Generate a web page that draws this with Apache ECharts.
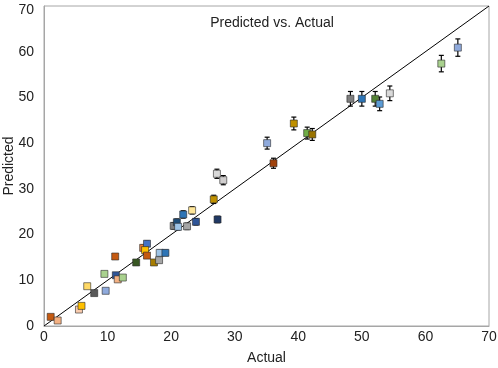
<!DOCTYPE html>
<html>
<head>
<meta charset="utf-8">
<script src="https://cdn.jsdelivr.net/npm/echarts@6/dist/echarts.min.js"></script>
<style>html,body{margin:0;padding:0;background:#fff}#chart{width:498px;height:368px}</style>
</head>
<body>
<div id="chart"></div>
<script>
// ---- data ----
var actual = [1.05, 2.15, 5.5, 5.9, 6.8, 7.9, 9.7, 9.5, 11.2, 11.3, 11.6, 12.4, 14.5, 15.6, 16.2, 15.9, 16.2, 17.3, 18.1, 18.2, 19.1,
  20.4, 20.9, 21.1, 21.9, 22.5, 23.3, 23.9, 26.7, 27.2, 27.3, 28.2, 35.1, 36.1, 39.3, 41.4, 42.2, 48.2, 50.0, 52.1, 52.8, 54.4, 62.5, 65.1];
var predicted = [2.0, 1.2, 3.6, 4.4, 8.7, 7.2, 7.7, 11.4, 15.2, 11.1, 10.2, 10.6, 13.9, 17.1, 18.0, 16.6, 15.4, 13.9, 14.4, 16.0, 16.0,
  21.9, 22.7, 21.7, 24.4, 21.8, 25.3, 22.8, 27.7, 33.3, 23.3, 31.9, 40.0, 35.6, 44.3, 42.2, 41.9, 49.7, 49.7, 49.7, 48.6, 50.9, 57.4, 60.9];
var errors = [0.1, 0.1, 0.2, 0.2, 0.3, 0.3, 0.3, 0.4, 0.5, 0.4, 0.4, 0.4, 0.5, 0.6, 0.6, 0.6, 0.5, 0.5, 0.5, 0.6, 0.6,
  0.7, 0.7, 0.7, 0.8, 0.7, 0.8, 0.7, 0.9, 1.0, 0.7, 1.0, 1.3, 1.1, 1.4, 1.3, 1.3, 1.6, 1.6, 1.6, 1.5, 1.6, 1.8, 1.9];
var fitLine = [[0, 0], [70, 70]];
var axisTicks = [0, 10, 20, 30, 40, 50, 60, 70];

// ---- styles ----
var pointColors = ['#c55a11', '#f4b183', '#f8cbad', '#ffc000', '#ffd966', '#595959', '#8faadc', '#a9d18e', '#c55a11', '#2f5597', '#f4b183', '#a9d18e',
  '#385723', '#ed7d31', '#4472c4', '#ffc000', '#c55a11', '#a67c00', '#a5a5a5', '#9dc3e6', '#2e75b6',
  '#7f7f7f', '#1f4e79', '#9dc3e6', '#2e75b6', '#a5a5a5', '#ffe699', '#2f5597', '#bf9000', '#d9d9d9', '#203864', '#d0cece',
  '#8faadc', '#a0420c', '#bf9000', '#70ad47', '#997300', '#7f7f7f', '#2e75b6', '#548235', '#5b9bd5', '#d9d9d9', '#a9d18e', '#8faadc'];
var FONT = '"Liberation Sans", Arial, sans-serif';
var AXMAX = axisTicks[axisTicks.length - 1];

var points = actual.map(function (a, i) {
  return { value: [a, predicted[i]], itemStyle: { color: pointColors[i] } };
});
var errData = actual.map(function (a, i) { return [a, predicted[i] - errors[i], predicted[i] + errors[i]]; });

var chart = echarts.init(document.getElementById('chart'));
chart.setOption({
  animation: false,
  title: {
    text: 'Predicted vs. Actual', left: 267, top: 11, textAlign: 'center',
    textStyle: { fontFamily: FONT, fontSize: 14, fontWeight: 'normal', color: '#222' }
  },
  grid: { left: 44, right: 9, top: 6, bottom: 42, containLabel: false, outerBoundsMode: 'none',
    show: true, borderColor: '#a6a6a6', borderWidth: 1 },
  xAxis: {
    type: 'value', min: axisTicks[0], max: AXMAX, interval: 10,
    name: 'Actual', nameLocation: 'middle', nameGap: 25, nameMoveOverlap: false,
    nameTextStyle: { fontFamily: FONT, fontSize: 14, color: '#222' },
    axisLine: { lineStyle: { color: '#a6a6a6' } }, axisTick: { show: false },
    axisLabel: { fontFamily: FONT, fontSize: 14, color: '#222', margin: 4 },
    splitLine: { show: false }
  },
  yAxis: {
    type: 'value', min: axisTicks[0], max: AXMAX, interval: 10,
    name: 'Predicted', nameLocation: 'middle', nameGap: 28, nameMoveOverlap: false,
    nameTextStyle: { fontFamily: FONT, fontSize: 14, color: '#222' },
    axisLine: { show: true, lineStyle: { color: '#a6a6a6' } }, axisTick: { show: false },
    axisLabel: {
      fontFamily: FONT, fontSize: 14, color: '#222', margin: 10,
      formatter: function (v) { return v === AXMAX ? '{mx|' + v + '}' : String(v); },
      rich: { mx: { fontFamily: FONT, fontSize: 14, color: '#222', padding: [8, 0, 0, 0] } }
    },
    splitLine: { show: false }
  },
  series: [
    {
      type: 'line', data: fitLine, symbol: 'none', silent: true,
      lineStyle: { color: '#000', width: 1 }, z: 2
    },
    {
      type: 'custom', z: 3,
      renderItem: function (params, api) {
        var x = api.value(0);
        var lo = api.coord([x, api.value(1)]);
        var hi = api.coord([x, api.value(2)]);
        var w = 2.5;
        var st = { stroke: '#000', lineWidth: 1.2 };
        return { type: 'group', children: [
          { type: 'line', shape: { x1: lo[0], y1: lo[1], x2: hi[0], y2: hi[1] }, style: st },
          { type: 'line', shape: { x1: lo[0] - w, y1: lo[1], x2: lo[0] + w, y2: lo[1] }, style: st },
          { type: 'line', shape: { x1: hi[0] - w, y1: hi[1], x2: hi[0] + w, y2: hi[1] }, style: st }
        ]};
      },
      encode: { x: 0, y: [1, 2] },
      data: errData
    },
    {
      type: 'scatter', data: points, symbol: 'rect', symbolSize: 7, z: 4,
      itemStyle: { borderColor: 'rgba(40,40,40,0.75)', borderWidth: 0.8, opacity: 1 }
    }
  ]
});
</script>
</body>
</html>
